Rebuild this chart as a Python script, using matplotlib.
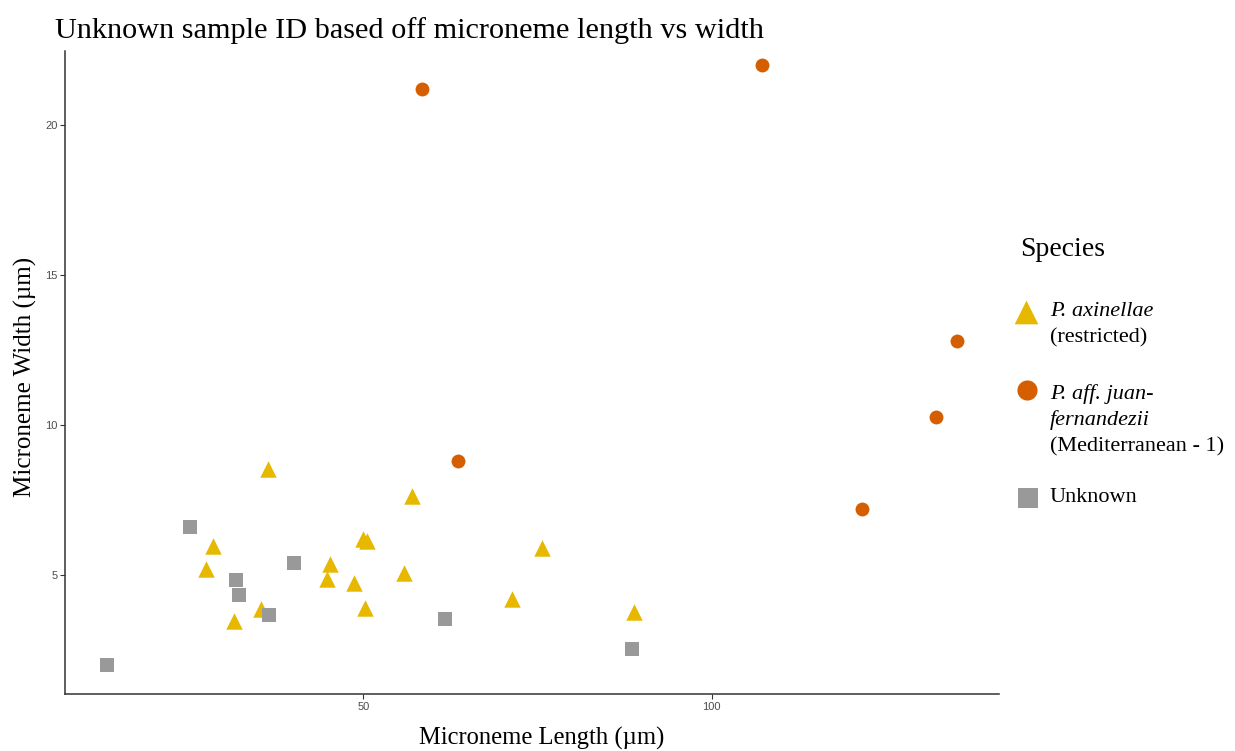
import numpy as np
import matplotlib
matplotlib.use("Agg")
import matplotlib.pyplot as plt

# data (length, width in um)
axi_len = [36.4, 57.0, 28.5, 27.5, 50.0, 50.6, 45.2, 44.8, 48.7, 55.8, 75.7, 71.4, 50.3, 35.4, 31.4, 88.8]
axi_wid = [8.53, 7.64, 5.97, 5.22, 6.22, 6.14, 5.36, 4.87, 4.74, 5.08, 5.92, 4.22, 3.91, 3.87, 3.48, 3.78]

juan_len = [63.6, 58.4, 107.3, 135.2, 132.2, 121.6]
juan_wid = [8.82, 21.22, 22.0, 12.81, 10.28, 7.20]

unk_len = [25.1, 13.2, 31.8, 32.1, 36.5, 40.1, 61.7, 88.6]
unk_wid = [6.61, 2.02, 4.83, 4.33, 3.66, 5.41, 3.53, 2.53]

x_ticks = [50, 100]
y_ticks = [5, 10, 15, 20]

col_axi = "#E7B800"
col_juan = "#D55E00"
col_unk = "#999999"
serif = ["Liberation Serif", "DejaVu Serif"]

W, H = 1235, 751
fig = plt.figure(figsize=(W / 100, H / 100), dpi=100)
fig.patch.set_facecolor("white")

ax = fig.add_axes([65 / W, 1 - 694.3 / H, (998.7 - 65) / W, (694.3 - 50.7) / H])
ax.scatter(axi_len, axi_wid, marker="^", s=140, color=col_axi, linewidths=0, zorder=3)
ax.scatter(juan_len, juan_wid, marker="o", s=100, color=col_juan, linewidths=0, zorder=3)
ax.scatter(unk_len, unk_wid, marker="s", s=90, color=col_unk, linewidths=0, zorder=3)

ax.set_xlim(7.2, 141.2)
ax.set_ylim(1.03, 22.48)
ax.set_xticks(x_ticks)
ax.set_yticks(y_ticks)
ax.spines[["top", "right"]].set_visible(False)
for s in ["left", "bottom"]:
    ax.spines[s].set_color("#333333")
    ax.spines[s].set_linewidth(1.1)
ax.tick_params(colors="#333333", labelcolor="#4D4D4D", labelsize=8, length=3.5, width=0.8, pad=2)
for lab in ax.get_xticklabels() + ax.get_yticklabels():
    lab.set_family(["Liberation Sans", "DejaVu Sans"])

ax.set_xlabel("Microneme Length (µm)", family=serif, fontsize=17.7)
ax.set_ylabel("Microneme Width (µm)", family=serif, fontsize=18)
ax.xaxis.set_label_coords((542 - 65) / (998.7 - 65), -(738 - 694.3) / (694.3 - 50.7))
ax.yaxis.set_label_coords(-(65 - 25) / (998.7 - 65), (694.3 - 377) / (694.3 - 50.7))
ax.xaxis.label.set_va("center")
ax.yaxis.label.set_va("center")

fig.text(55 / W, 1 - 31 / H, "Unknown sample ID based off microneme length vs width",
         family=serif, fontsize=21.8, ha="left", va="center")

# legend drawn by hand so the keys line up with the first label line
fig.text(1020 / W, 1 - 249 / H, "Species", family=serif, fontsize=20, ha="left", va="center")
lx = 1050 / W
fs = 16
fig.text(lx, 1 - 312 / H, "P. axinellae", family=serif, style="italic", fontsize=fs, va="center")
fig.text(lx, 1 - 338 / H, "(restricted)", family=serif, fontsize=fs, va="center")
fig.text(lx, 1 - 394 / H, "P. aff. juan-", family=serif, style="italic", fontsize=fs, va="center")
fig.text(lx, 1 - 420 / H, "fernandezii", family=serif, style="italic", fontsize=fs, va="center")
fig.text(lx, 1 - 447 / H, "(Mediterranean - 1)", family=serif, fontsize=fs, va="center")
fig.text(lx, 1 - 498 / H, "Unknown", family=serif, fontsize=fs, va="center")

leg = fig.add_axes([0, 0, 1, 1], facecolor="none")
leg.set_xlim(0, W)
leg.set_ylim(H, 0)
leg.axis("off")
leg.scatter([1026], [312], marker="^", s=290, color=col_axi, linewidths=0)
leg.scatter([1027], [390], marker="o", s=210, color=col_juan, linewidths=0)
leg.scatter([1028], [498], marker="s", s=220, color=col_unk, linewidths=0)

fig.savefig("out.png", dpi=100)
